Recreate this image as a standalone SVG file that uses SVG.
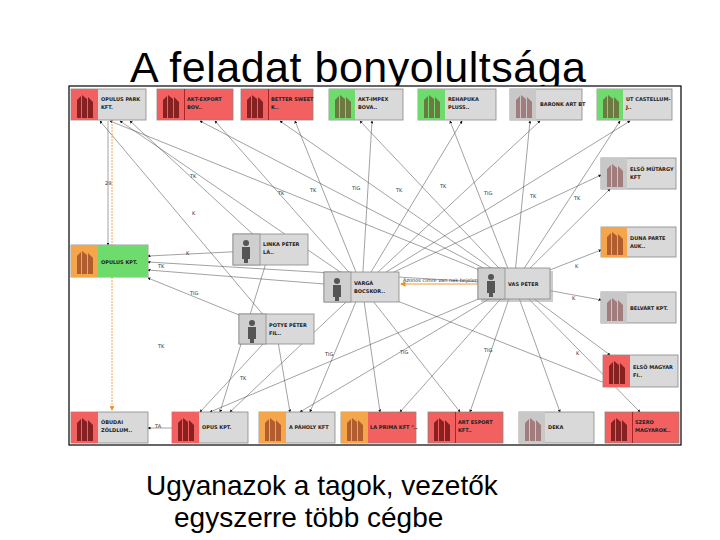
<svg xmlns="http://www.w3.org/2000/svg" width="720" height="540" viewBox="0 0 720 540">
<style>
.t{font-family:"Liberation Sans",Arial,sans-serif;fill:#000}
.nl{font-family:"DejaVu Sans",sans-serif;font-size:5px;font-weight:bold;fill:#222}
.el{font-family:"DejaVu Sans",sans-serif;font-size:5px;fill:#333}
.box{stroke:#888;stroke-width:0.8}
.g{fill:#d9d9d9}.r{fill:#f26060}.gr{fill:#6ddc6d}.o{fill:#f5a54a}.gy{fill:#c8c8c8}.pr{fill:#cfcfcf}
.e{stroke:#444;stroke-width:0.5;fill:none;marker-end:url(#a)}
</style>
<defs>
<marker id="a" markerWidth="6" markerHeight="6" refX="5" refY="3" orient="auto"><path d="M0,0L6,3L0,6z" fill="#111"/></marker>
<marker id="ao" markerWidth="6" markerHeight="6" refX="5" refY="3" orient="auto"><path d="M0,0L6,3L0,6z" fill="#e8902a"/></marker>
<g id="bld"><path d="M5,27V9L9,5V27M10,27V4L15,8V27M16,27V6L21,11V27" fill="#6b1010" opacity="0.8"/></g>
<g id="per"><circle cx="13" cy="8" r="3" fill="#555"/><path d="M9,12H17V24H15V28H11V24H9Z" fill="#555"/></g>
</defs>
<rect width="720" height="540" fill="#fff"/>
<text class="t" x="130" y="82" font-size="43" textLength="456">A feladat bonyolultsága</text>
<rect x="69" y="86" width="612" height="359" fill="#fff" stroke="#000" stroke-width="1.2"/>
<g id="edges">
<path class="e" d="M514,284L110,121"/><path class="e" d="M514,284L200,121"/><path class="e" d="M514,284L280,121"/><path class="e" d="M514,284L360,121"/><path class="e" d="M514,284L450,121"/><path class="e" d="M514,284L530,121"/><path class="e" d="M514,284L620,121"/><path class="e" d="M514,284L610,189"/><path class="e" d="M514,284L601,250"/><path class="e" d="M514,284L601,300"/><path class="e" d="M514,284L610,355"/><path class="e" d="M514,284L640,412"/><path class="e" d="M514,284L560,412"/><path class="e" d="M514,284L470,412"/><path class="e" d="M514,284L400,412"/><path class="e" d="M514,284L300,412"/><path class="e" d="M514,284L210,412"/><path class="e" d="M514,284L148,262"/>
<path class="e" d="M362,287L120,121"/><path class="e" d="M362,287L215,121"/><path class="e" d="M362,287L295,121"/><path class="e" d="M362,287L372,121"/><path class="e" d="M362,287L462,121"/><path class="e" d="M362,287L540,121"/><path class="e" d="M362,287L630,121"/><path class="e" d="M362,287L601,175"/><path class="e" d="M362,287L610,385"/><path class="e" d="M362,287L460,412"/><path class="e" d="M362,287L380,412"/><path class="e" d="M362,287L310,412"/><path class="e" d="M362,287L230,412"/><path class="e" d="M362,287L148,270"/>
<path class="e" d="M270,250L130,121"/><path class="e" d="M270,250L148,256"/><path class="e" d="M270,250L220,412"/><path class="e" d="M276,330L100,121"/><path class="e" d="M276,330L200,412"/><path class="e" d="M276,330L148,278"/><path class="e" d="M276,330L290,412"/>
<path class="e" d="M108,121V245"/><path class="e" d="M172,428H148"/>
<path d="M112,121V410" stroke="#e8902a" stroke-width="0.8" stroke-dasharray="2,1" fill="none" marker-end="url(#ao)"/>
<path d="M478,284H401" stroke="#e8902a" stroke-width="0.9" fill="none" marker-end="url(#ao)"/>
<text class="el" x="403" y="282" font-size="4.5">Azonos címre van nak bejelentve</text>
<text class="el" x="105" y="185">29</text><text class="el" x="155" y="428">TA</text>
<text class="el" x="190" y="178">TK</text><text class="el" x="278" y="195">TK</text><text class="el" x="310" y="192">TK</text><text class="el" x="352" y="190">TIG</text><text class="el" x="396" y="192">TK</text><text class="el" x="440" y="188">TK</text><text class="el" x="484" y="195">TIG</text><text class="el" x="530" y="198">TK</text><text class="el" x="574" y="200">TK</text>
<text class="el" x="190" y="295">TIG</text><text class="el" x="186" y="255">K</text><text class="el" x="158" y="268">TK</text><text class="el" x="158" y="348">TK</text><text class="el" x="240" y="380">TK</text><text class="el" x="325" y="356">TIG</text><text class="el" x="400" y="354">TIG</text><text class="el" x="484" y="352">TIG</text><text class="el" x="575" y="268">K</text><text class="el" x="572" y="300">K</text><text class="el" x="576" y="355">K</text><text class="el" x="192" y="215">K</text>
</g>
<g id="n1"><rect class="box g" x="71" y="89" width="75" height="31"/><rect class="r" x="71" y="89" width="27" height="31"/><use href="#bld" x="72" y="91"/><text class="nl" x="101" y="101">OPULUS PARK</text><text class="nl" x="101" y="109">KFT.</text></g>
<g id="n2"><rect class="box r" x="157" y="89" width="76" height="31"/><use href="#bld" x="158" y="91"/><rect x="184" y="89" width="0.6" height="31" fill="#700"/><text class="nl" x="187" y="101">AKT-EXPORT</text><text class="nl" x="187" y="109">BOV..</text></g>
<g id="n3"><rect class="box r" x="241" y="89" width="72" height="31"/><use href="#bld" x="242" y="91"/><rect x="268" y="89" width="0.6" height="31" fill="#700"/><text class="nl" x="271" y="101">BETTER SWEET</text><text class="nl" x="271" y="109">K..</text></g>
<g id="n4"><rect class="box g" x="329" y="89" width="74" height="31"/><rect class="gr" x="329" y="89" width="26" height="31"/><use href="#bld" x="330" y="91" opacity="0.6"/><text class="nl" x="358" y="101">AKT-IMPEX</text><text class="nl" x="358" y="109">BOVA..</text></g>
<g id="n5"><rect class="box g" x="418" y="89" width="78" height="31"/><rect class="gr" x="418" y="89" width="27" height="31"/><use href="#bld" x="419" y="91" opacity="0.6"/><text class="nl" x="448" y="101">REHAPUKA</text><text class="nl" x="448" y="109">PLUSS..</text></g>
<g id="n6"><rect class="box g" x="510" y="89" width="72" height="31"/><rect class="gy" x="510" y="89" width="26" height="31"/><use href="#bld" x="511" y="91" opacity="0.5"/><text class="nl" x="540" y="106">BARONK ART BT</text></g>
<g id="n7"><rect class="box g" x="597" y="89" width="75" height="31"/><rect class="gr" x="597" y="89" width="26" height="31"/><use href="#bld" x="598" y="91" opacity="0.6"/><text class="nl" x="626" y="101">UT CASTELLUM-</text><text class="nl" x="626" y="109">J..</text></g>
<g id="n8"><rect class="box g" x="601" y="158" width="75" height="31"/><rect class="gy" x="601" y="158" width="26" height="31"/><use href="#bld" x="602" y="160" opacity="0.5"/><text class="nl" x="630" y="171">ELSŐ MŰTÁRGY</text><text class="nl" x="630" y="179">KFT</text></g>
<g id="n9"><rect class="box g" x="601" y="227" width="75" height="30"/><rect class="o" x="601" y="227" width="26" height="30"/><use href="#bld" x="602" y="228" opacity="0.6"/><text class="nl" x="630" y="240">DUNA PARTE</text><text class="nl" x="630" y="248">AUK..</text></g>
<g id="n10"><rect class="box g" x="601" y="292" width="75" height="31"/><rect class="gy" x="601" y="292" width="26" height="31"/><use href="#bld" x="602" y="294" opacity="0.5"/><text class="nl" x="630" y="310">BELVÁRT KPT.</text></g>
<g id="n11"><rect class="box g" x="603" y="355" width="75" height="32"/><rect class="r" x="603" y="355" width="27" height="32"/><use href="#bld" x="604" y="357"/><text class="nl" x="633" y="369">ELSŐ MAGYAR</text><text class="nl" x="633" y="377">FI..</text></g>
<g id="n12"><rect class="box g" x="71" y="245" width="77" height="32"/><rect class="o" x="71" y="245" width="27" height="32"/><rect class="gr" x="98" y="245" width="50" height="32"/><use href="#bld" x="72" y="247" opacity="0.6"/><text class="nl" x="101" y="264">OPULUS KPT.</text></g>
<g id="n13"><rect class="box g" x="71" y="412" width="77" height="31"/><rect class="r" x="71" y="412" width="27" height="31"/><use href="#bld" x="72" y="414"/><text class="nl" x="101" y="424">ÓBUDAI</text><text class="nl" x="101" y="432">ZÖLDLUM..</text></g>
<g id="n14"><rect class="box g" x="172" y="412" width="76" height="31"/><rect class="r" x="172" y="412" width="27" height="31"/><use href="#bld" x="173" y="414"/><text class="nl" x="202" y="429">OPUS KPT.</text></g>
<g id="n15"><rect class="box g" x="259" y="412" width="76" height="31"/><rect class="o" x="259" y="412" width="27" height="31"/><use href="#bld" x="260" y="414" opacity="0.6"/><text class="nl" x="289" y="429">A PÁHOLY KFT</text></g>
<g id="n16"><rect class="box r" x="341" y="412" width="75" height="31"/><rect class="o" x="341" y="412" width="27" height="31"/><use href="#bld" x="342" y="414" opacity="0.6"/><text class="nl" x="370" y="429">LA PRIMA KFT "..</text></g>
<g id="n17"><rect class="box r" x="428" y="412" width="75" height="31"/><use href="#bld" x="429" y="414"/><rect x="455" y="412" width="0.6" height="31" fill="#700"/><text class="nl" x="458" y="424">ART ESPORT</text><text class="nl" x="458" y="432">KFT..</text></g>
<g id="n18"><rect class="box g" x="519" y="412" width="75" height="31"/><rect class="gy" x="519" y="412" width="26" height="31"/><use href="#bld" x="520" y="414" opacity="0.5"/><text class="nl" x="548" y="429">DEKA</text></g>
<g id="n19"><rect class="box r" x="605" y="412" width="74" height="31"/><use href="#bld" x="606" y="414"/><rect x="632" y="412" width="0.6" height="31" fill="#700"/><text class="nl" x="635" y="424">SZERO</text><text class="nl" x="635" y="432">MAGYAROK..</text></g>
<g id="p1"><rect class="box g" x="233" y="234" width="75" height="31"/><rect class="pr" x="233" y="234" width="27" height="31" stroke="#777" stroke-width="0.6"/><use href="#per" x="233" y="235"/><text class="nl" x="263" y="246">LINKA PÉTER</text><text class="nl" x="263" y="254">LÁ..</text></g>
<g id="p2"><rect class="box g" x="324" y="272" width="75" height="30"/><rect class="pr" x="324" y="272" width="27" height="30" stroke="#777" stroke-width="0.6"/><use href="#per" x="324" y="273"/><text class="nl" x="354" y="285">VARGÁ</text><text class="nl" x="354" y="293">BOCSKOR..</text></g>
<g id="p3"><rect x="481" y="271" width="72" height="31" fill="#999" opacity="0.5"/><rect class="box g" x="478" y="268" width="72" height="31"/><rect class="pr" x="478" y="268" width="27" height="31" stroke="#777" stroke-width="0.6"/><use href="#per" x="478" y="269"/><text class="nl" x="508" y="286">VAS PÉTER</text></g>
<g id="p4"><rect class="box g" x="239" y="314" width="75" height="30"/><rect class="pr" x="239" y="314" width="27" height="30" stroke="#777" stroke-width="0.6"/><use href="#per" x="239" y="315"/><text class="nl" x="269" y="327">POTYE PÉTER</text><text class="nl" x="269" y="335">FIL..</text></g>
<text class="t" x="146" y="495" font-size="28">Ugyanazok a tagok, vezetők</text>
<text class="t" x="174" y="527" font-size="28">egyszerre több cégbe</text>
</svg>
